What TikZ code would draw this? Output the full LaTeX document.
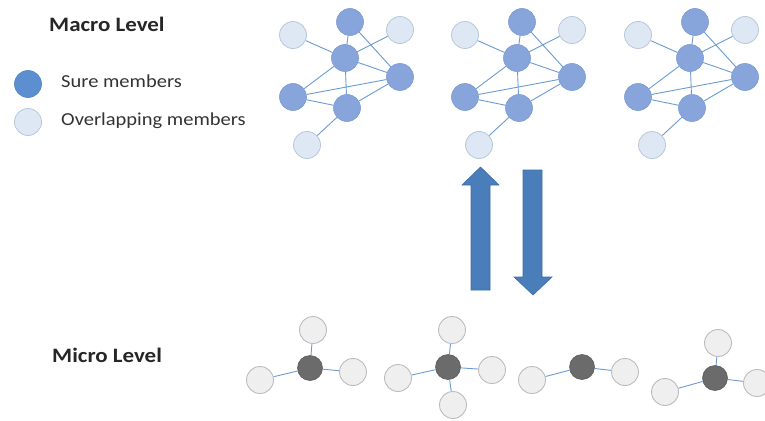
\documentclass[tikz,border=0pt]{standalone}
\usepackage{fontspec}
\setmainfont{Carlito}
\usetikzlibrary{backgrounds}
\definecolor{surec}{HTML}{87A5DB}
\definecolor{sureb}{HTML}{7C9AD2}
\definecolor{legsure}{HTML}{5B8FD0}
\definecolor{legsureb}{HTML}{4F81C2}
\definecolor{overc}{HTML}{DDE8F4}
\definecolor{overb}{HTML}{B9C7D8}
\definecolor{darkc}{HTML}{6B6B6B}
\definecolor{darkb}{HTML}{5C5C5C}
\definecolor{litec}{HTML}{EFEFEF}
\definecolor{liteb}{HTML}{BDBDBD}
\definecolor{edgec}{HTML}{6A9BD1}
\definecolor{arrowc}{HTML}{4A7EBB}
\definecolor{arrowb}{HTML}{3D6DA6}
\definecolor{txtc}{HTML}{262626}
\tikzset{
  sure/.style={circle,minimum size=27pt,inner sep=0pt,fill=surec,draw=sureb,line width=0.6pt},
  over/.style={circle,minimum size=27pt,inner sep=0pt,fill=overc,draw=overb,line width=0.8pt},
  legsure/.style={circle,minimum size=27pt,inner sep=0pt,fill=legsure,draw=legsureb,line width=0.6pt},
  dark/.style={circle,minimum size=25pt,inner sep=0pt,fill=darkc,draw=darkb,line width=0.6pt},
  lite/.style={circle,minimum size=27pt,inner sep=0pt,fill=litec,draw=liteb,line width=0.9pt},
  edge/.style={draw=edgec,line width=0.9pt},
  bigarrow/.style={fill=arrowc,draw=arrowb,line width=0.6pt},
  lbl/.style={anchor=base west,inner sep=0pt,text=txtc},
  headfont/.style={font=\bfseries\fontsize{20.5}{24}\selectfont},
  legfont/.style={font=\fontsize{18.3}{22}\selectfont,text=black!80}
}
\begin{document}
\begin{tikzpicture}[x=1pt,y=-1pt]
\useasboundingbox (0,0) rectangle (765,420);

% labels
\node[lbl,headfont] (macro) at (49,32) {\scalebox{1.12}[1]{Macro Level}};
\node[lbl,headfont] (micro) at (52,362) {\scalebox{1.12}[1]{Micro Level}};
\node[legsure] (ls) at (28,84) {};
\node[over] (lo) at (28,122) {};
\node[lbl,legfont] (lst) at (61,87) {\scalebox{1.12}[1]{Sure members}};
\node[lbl,legfont] (lot) at (61,125) {\scalebox{1.12}[1]{Overlapping members}};

% macro networks
\foreach \p/\dx in {A/0,B/172,C/345}{
  \begin{scope}[xshift=\dx pt]
    \node[sure] (\p top) at (350,22) {};
    \node[over] (\p tl)  at (293,35) {};
    \node[over] (\p tr)  at (400,30) {};
    \node[sure] (\p c)   at (345,58) {};
    \node[sure] (\p r)   at (400,77) {};
    \node[sure] (\p l)   at (293,97) {};
    \node[sure] (\p b)   at (347,108) {};
    \node[over] (\p bo)  at (307,145) {};
  \end{scope}
  \begin{scope}[on background layer]
    \draw[edge] (\p tl) -- (\p c);
    \draw[edge] (\p top) -- (\p c);
    \draw[edge] (\p top) -- (\p r);
    \draw[edge] (\p tr) -- (\p c);
    \draw[edge] (\p c) -- (\p r);
    \draw[edge] (\p c) -- (\p l);
    \draw[edge] (\p c) -- (\p b);
    \draw[edge] (\p l) -- (\p r);
    \draw[edge] (\p l) -- (\p b);
    \draw[edge] (\p b) -- (\p r);
    \draw[edge] (\p b) -- (\p bo);
  \end{scope}
}

% arrows
\draw[bigarrow] (471,290) -- (471,185) -- (462,185) -- (480.5,167) -- (499,185) -- (490,185) -- (490,290) -- cycle;
\draw[bigarrow] (523,170) -- (542,170) -- (542,277) -- (552,277) -- (533,295) -- (514,277) -- (523,277) -- cycle;

% micro stars
\node[dark] (s1) at (310,368) {};
\node[lite] (s1t) at (313,330) {};
\node[lite] (s1l) at (260,380) {};
\node[lite] (s1r) at (353,372) {};

\node[dark] (s2) at (448,367) {};
\node[lite] (s2t) at (452,330) {};
\node[lite] (s2l) at (398,378) {};
\node[lite] (s2r) at (492,370) {};
\node[lite] (s2b) at (453,405) {};

\node[dark] (s3) at (582,367) {};
\node[lite] (s3l) at (532,380) {};
\node[lite] (s3r) at (625,372) {};

\node[dark] (s4) at (715,378) {};
\node[lite] (s4t) at (718,343) {};
\node[lite] (s4l) at (665,392) {};
\node[lite] (s4r) at (757,383) {};

\begin{scope}[on background layer]
  \foreach \a/\b in {s1/s1t,s1/s1l,s1/s1r,s2/s2t,s2/s2l,s2/s2r,s2/s2b,s3/s3l,s3/s3r,s4/s4t,s4/s4l,s4/s4r}
    \draw[edge] (\a) -- (\b);
\end{scope}
\end{tikzpicture}
\end{document}
